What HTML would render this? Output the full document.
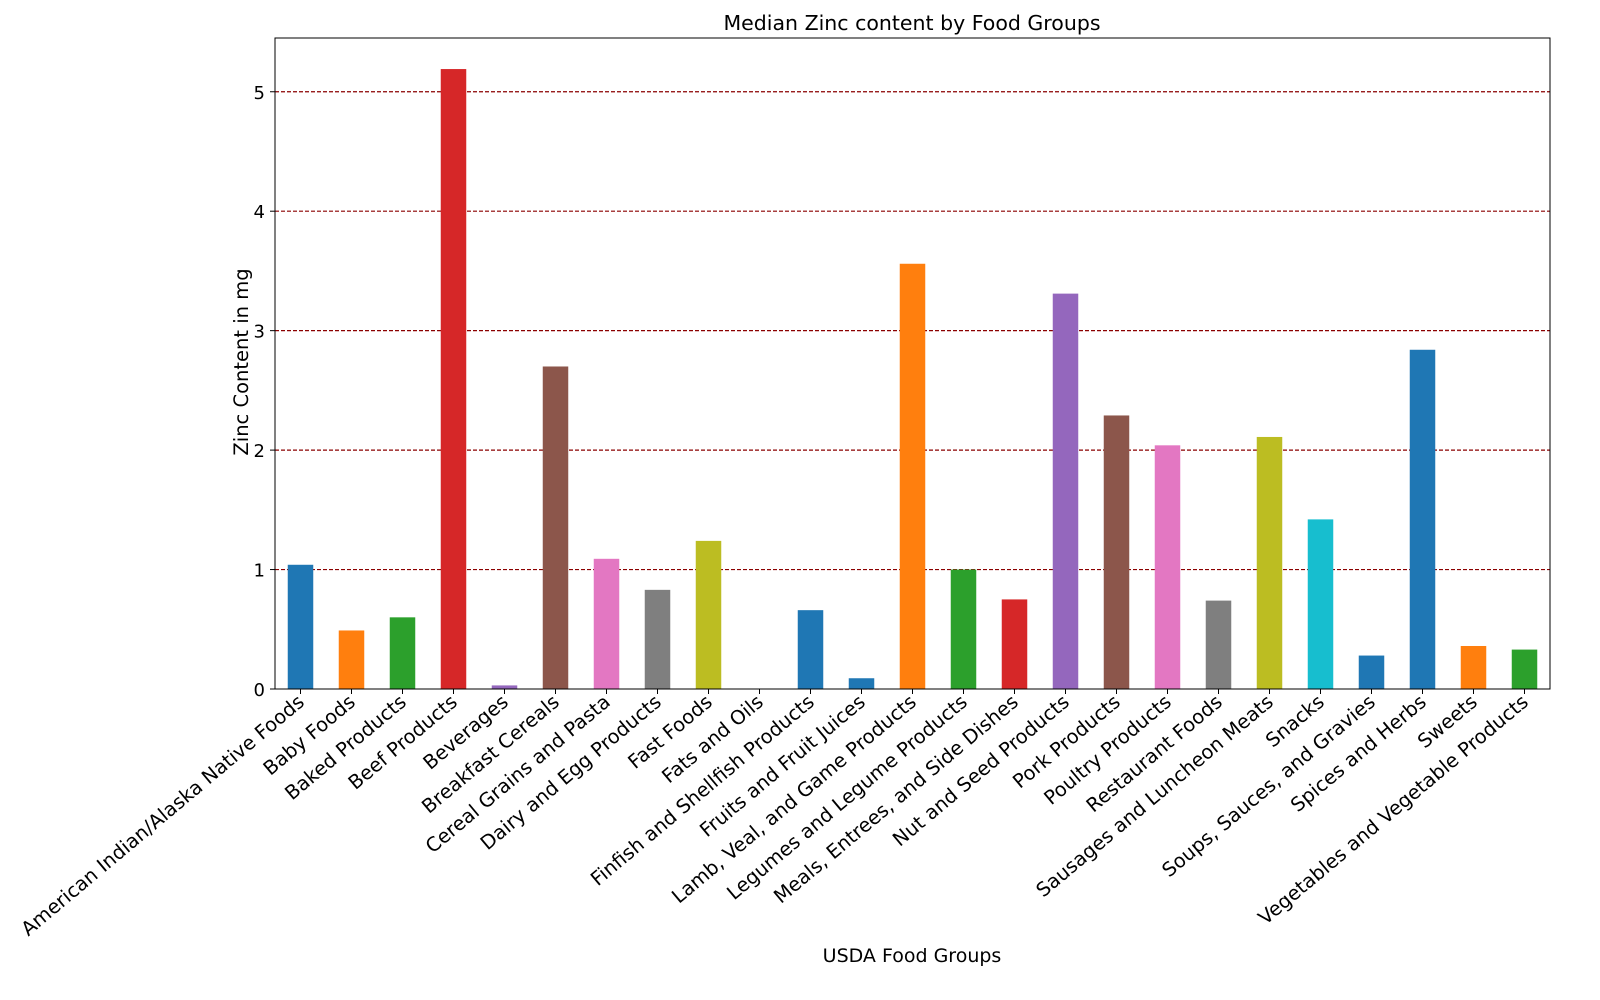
<!DOCTYPE html>
<html><head><meta charset="utf-8"><style>
html,body{margin:0;padding:0;background:#fff;}
svg{display:block;font-family:"DejaVu Sans","Liberation Sans",sans-serif;}
</style></head><body>
<svg id="chart" width="1600" height="1000">
<text x="912" y="30" font-size="20.5" text-anchor="middle">Median Zinc content by Food Groups</text>
<text x="912" y="962" font-size="19" text-anchor="middle">USDA Food Groups</text>
<text transform="translate(248,362) rotate(-90)" font-size="19.5" text-anchor="middle">Zinc Content in mg</text>
<g id="grid"></g><g id="bars"></g><g id="axes"></g>
</svg>
<script>
const categories=["American Indian/Alaska Native Foods","Baby Foods","Baked Products","Beef Products","Beverages","Breakfast Cereals","Cereal Grains and Pasta","Dairy and Egg Products","Fast Foods","Fats and Oils","Finfish and Shellfish Products","Fruits and Fruit Juices","Lamb, Veal, and Game Products","Legumes and Legume Products","Meals, Entrees, and Side Dishes","Nut and Seed Products","Pork Products","Poultry Products","Restaurant Foods","Sausages and Luncheon Meats","Snacks","Soups, Sauces, and Gravies","Spices and Herbs","Sweets","Vegetables and Vegetable Products"];
const values=[1.04,0.49,0.60,5.19,0.03,2.70,1.09,0.83,1.24,0.00,0.66,0.09,3.56,1.00,0.75,3.31,2.29,2.04,0.74,2.11,1.42,0.28,2.84,0.36,0.33];
const yTicks=[0,1,2,3,4,5];
const colors=["#1f77b4","#ff7f0e","#2ca02c","#d62728","#9467bd","#8c564b","#e377c2","#7f7f7f","#bcbd22","#17becf","#1f77b4","#1f77b4","#ff7f0e","#2ca02c","#d62728","#9467bd","#8c564b","#e377c2","#7f7f7f","#bcbd22","#17becf","#1f77b4","#1f77b4","#ff7f0e","#2ca02c"];
const NS="http://www.w3.org/2000/svg";
const L=275,R=1550,T=38,B=689,ymax=5.45;
const x=i=>L+(i+0.5)*(R-L)/categories.length;
const y=v=>B-v*(B-T)/ymax;
const bw=(R-L)/categories.length*0.5;
function mk(tag,attrs,parent){const e=document.createElementNS(NS,tag);for(const k in attrs)e.setAttribute(k,attrs[k]);document.getElementById(parent).appendChild(e);return e;}
yTicks.forEach(t=>{if(t>0){const g=mk("line",{x1:L,x2:R,y1:y(t),y2:y(t),stroke:"#8b0000","stroke-dasharray":"4,2","stroke-width":1.2},"grid");

}
const tk=mk("line",{x1:L-5,x2:L,y1:y(t),y2:y(t),stroke:"#000"},"axes");


const tl=mk("text",{x:L-10,y:y(t)+7,"font-size":18,"text-anchor":"end"},"axes");tl.textContent=t;

});
values.forEach((v,i)=>{const r=mk("rect",{x:x(i)-bw/2,y:y(v),width:bw,height:B-y(v),fill:colors[i%colors.length]},"bars");


const tk=mk("line",{x1:x(i),x2:x(i),y1:B,y2:B+5,stroke:"#000"},"axes");


const tl=mk("text",{transform:`translate(${x(i)+5},${B+15}) rotate(-40)`,"font-size":19.5,"text-anchor":"end"},"axes");tl.textContent=categories[i];

});
const fr=mk("rect",{x:L,y:T,width:R-L,height:B-T,fill:"none",stroke:"#000","stroke-width":1},"axes");


</script>
</body></html>
